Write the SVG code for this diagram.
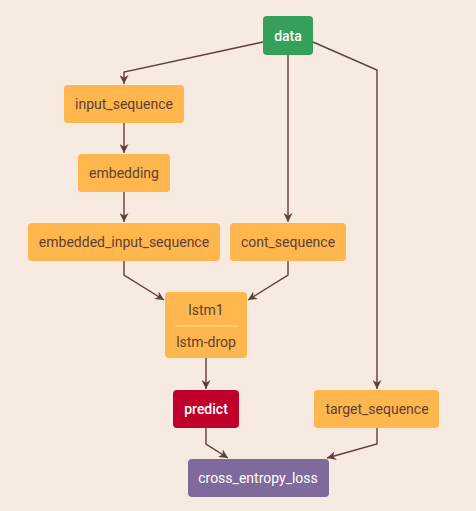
<svg xmlns="http://www.w3.org/2000/svg" width="476" height="511" viewBox="0 0 476 511">
<style>
.bg{fill:#F6EAE1}
.n rect{fill:#FFB74D;rx:4px}
.n text{font-family:Roboto,"Liberation Sans",sans-serif;font-size:14px;fill:#5D4037;text-anchor:middle;dominant-baseline:central}
.w text{fill:#FFFFFF;font-weight:500}
.e{fill:none;stroke:#5D4037;stroke-width:1.4}
</style>
<defs>
<marker id="a" viewBox="0 0 10 10" refX="10" refY="5" markerWidth="9" markerHeight="9" markerUnits="userSpaceOnUse" orient="auto">
<path d="M0,0 L10,5 L0,10 L3,5 Z" fill="#5D4037"/>
</marker>
</defs>
<rect class="bg" width="476" height="511"/>
<g id="edges">
<path class="e" d="M263,42 L124,72 L124,84" marker-end="url(#a)"/>
<path class="e" d="M288,55 L288,222" marker-end="url(#a)"/>
<path class="e" d="M313,42 L377,70 L377,389" marker-end="url(#a)"/>
<path class="e" d="M124,123 L124,153" marker-end="url(#a)"/>
<path class="e" d="M124,192 L124,222" marker-end="url(#a)"/>
<path class="e" d="M124,261 L124,275 L164,300" marker-end="url(#a)"/>
<path class="e" d="M288,261 L288,275 L248,300" marker-end="url(#a)"/>
<path class="e" d="M206,358 L206,389" marker-end="url(#a)"/>
<path class="e" d="M206,428 L206,444 L228,458" marker-end="url(#a)"/>
<path class="e" d="M377,428 L377,444 L327,458" marker-end="url(#a)"/>
</g>
<g id="data" class="n w"><rect x="263" y="16" width="50" height="39" style="fill:#34A05A"/><text x="288" y="36">data</text></g>
<g id="input_sequence" class="n"><rect x="64" y="85" width="120" height="38"/><text x="124" y="104">input_sequence</text></g>
<g id="embedding" class="n"><rect x="78" y="154" width="92" height="38"/><text x="124" y="173">embedding</text></g>
<g id="embedded_input_sequence" class="n"><rect x="28" y="223" width="192" height="38"/><text x="124" y="242">embedded_input_sequence</text></g>
<g id="cont_sequence" class="n"><rect x="230" y="223" width="116" height="38"/><text x="288" y="242">cont_sequence</text></g>
<g id="lstm1" class="n"><rect x="165" y="292" width="82" height="66"/><line x1="175" y1="326" x2="237" y2="326" stroke="#FFE0A8" stroke-width="1"/><text x="206" y="310">lstm1</text><text x="206" y="342">lstm-drop</text></g>
<g id="predict" class="n w"><rect x="173" y="390" width="66" height="38" style="fill:#C0002A"/><text x="206" y="409">predict</text></g>
<g id="target_sequence" class="n"><rect x="314" y="390" width="125" height="38"/><text x="377" y="409">target_sequence</text></g>
<g id="cross_entropy_loss" class="n"><rect x="188" y="459" width="141" height="38" style="fill:#7F6A9C"/><text x="258" y="478" style="fill:#FFFFFF">cross_entropy_loss</text></g>
</svg>
